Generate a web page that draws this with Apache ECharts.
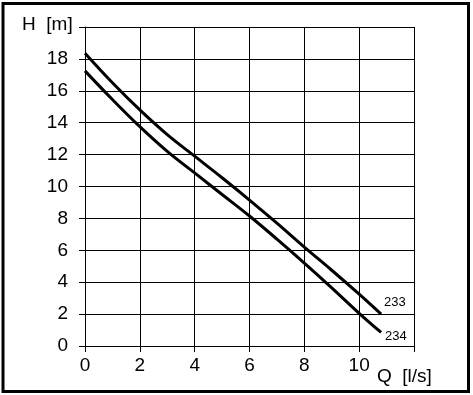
<!DOCTYPE html>
<html>
<head>
<meta charset="utf-8">
<script src="https://cdn.jsdelivr.net/npm/echarts@6/dist/echarts.min.js"></script>
<style>
html,body{margin:0;padding:0;background:#fff;}
#chart{width:473px;height:395px;}
</style>
</head>
<body>
<div id="chart"></div>
<script>
// Flow Q [l/s]
var qValues = [0, 1, 2, 3, 4, 5, 6, 7, 8, 9, 10, 10.8];
// Head H [m]
var h233 = [18.35, 16.5, 14.8, 13.25, 11.9, 10.55, 9.15, 7.7, 6.2, 4.75, 3.25, 2.0];
var h234 = [17.25, 15.45, 13.75, 12.2, 10.85, 9.5, 8.15, 6.7, 5.2, 3.65, 2.05, 0.85];
var seriesNames = ['233', '234'];
var xTicks = [0, 2, 4, 6, 8, 10];
var yTicks = [0, 2, 4, 6, 8, 10, 12, 14, 16, 18];

function pairs(xs, ys) { return xs.map(function (x, i) { return [x, ys[i]]; }); }

var FONT = '"Liberation Sans", Arial, sans-serif';
var chart = echarts.init(document.getElementById('chart'), null, {renderer: 'canvas'});
var axisCommon = {
  type: 'value',
  axisLine: {show: true, lineStyle: {color: '#000', width: 1}},
  axisTick: {show: true, length: 6, lineStyle: {color: '#000', width: 1}},
  splitLine: {show: true, lineStyle: {color: '#000', width: 1}}
};
chart.setOption({
  animation: false,
  backgroundColor: '#fff',
  grid: {left: 85, right: 59, top: 27, bottom: 49},
  xAxis: Object.assign({}, axisCommon, {
    min: 0, max: 12, interval: 2,
    axisLabel: {
      color: '#000', fontFamily: FONT, fontSize: 19, margin: 10,
      formatter: function (v) { return xTicks.indexOf(v) >= 0 ? String(v) : ''; }
    }
  }),
  yAxis: Object.assign({}, axisCommon, {
    min: 0, max: 20, interval: 2,
    axisLabel: {
      color: '#000', fontFamily: FONT, fontSize: 19, margin: 17,
      formatter: function (v) { return yTicks.indexOf(v) >= 0 ? String(v) : ''; }
    }
  }),
  graphic: [
    {type: 'rect', shape: {x: 3, y: 3.5, width: 465.5, height: 388},
     style: {fill: 'none', stroke: '#000', lineWidth: 3}, silent: true},
    {type: 'text', left: 22, top: 15,
     style: {text: 'H  [m]', font: '19px ' + FONT, fill: '#000'}},
    {type: 'text', left: 377, top: 367,
     style: {text: 'Q  [l/s]', font: '19px ' + FONT, fill: '#000'}}
  ],
  series: [
    {
      name: seriesNames[0], type: 'line', data: pairs(qValues, h233),
      smooth: 0.4, showSymbol: false,
      lineStyle: {color: '#000', width: 3},
      endLabel: {show: true, formatter: '{a}', color: '#000', fontFamily: FONT, fontSize: 13,
                 distance: 3, offset: [0, -12]}
    },
    {
      name: seriesNames[1], type: 'line', data: pairs(qValues, h234),
      smooth: 0.4, showSymbol: false,
      lineStyle: {color: '#000', width: 3},
      endLabel: {show: true, formatter: '{a}', color: '#000', fontFamily: FONT, fontSize: 13,
                 distance: 4, offset: [0, 4]}
    }
  ]
});
</script>
</body>
</html>
